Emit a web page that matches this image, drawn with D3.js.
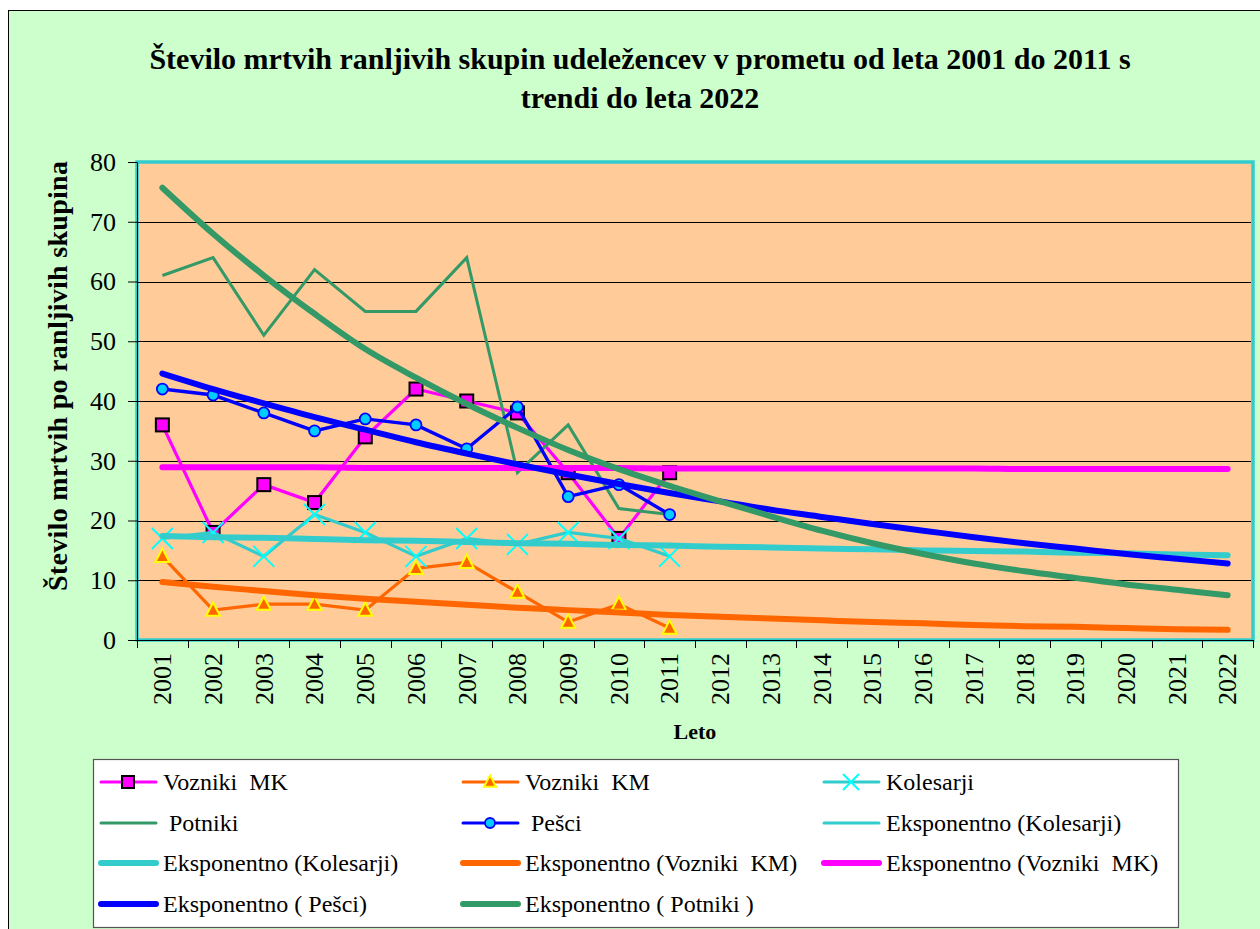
<!DOCTYPE html>
<html>
<head>
<meta charset="utf-8">
<script src="https://cdn.jsdelivr.net/npm/d3@7"></script>
<style>
  html, body { margin: 0; padding: 0; background: #ffffff; }
  svg { display: block; }
  text { font-family: "Liberation Serif", "Times New Roman", serif; fill: #000; }
</style>
</head>
<body>
<svg id="chart" width="1260" height="929"></svg>
<script>
// ---------------- DATA ----------------
const years = ["2001","2002","2003","2004","2005","2006","2007","2008","2009","2010","2011",
               "2012","2013","2014","2015","2016","2017","2018","2019","2020","2021","2022"];
const dataYears = years.slice(0, 11);

const voznikiMK = [36, 18, 26, 23, 34, 42, 40, 38, 28, 17, 28];
const voznikiKM = [14, 5, 6, 6, 5, 12, 13, 8, 3, 6, 2];
const kolesarji = [17, 18, 14, 21, 18, 14, 17, 16, 18, 17, 14];
const potniki   = [61, 64, 51, 62, 55, 55, 64, 28, 36, 22, 21];
const pesci     = [42, 41, 38, 35, 37, 36, 32, 39, 24, 26, 21];

// exponential trend lines (2001..2022)
const trendKolesarji = [17.4, 17.2, 17.1, 16.9, 16.7, 16.6, 16.4, 16.2, 16.1, 15.9, 15.8,
                        15.6, 15.5, 15.3, 15.2, 15.0, 14.9, 14.8, 14.6, 14.5, 14.3, 14.2];
const trendKM        = [9.7, 8.9, 8.2, 7.5, 6.9, 6.4, 5.9, 5.4, 5.0, 4.6, 4.2,
                        3.9, 3.6, 3.3, 3.0, 2.8, 2.5, 2.3, 2.2, 2.0, 1.8, 1.7];
const trendMK        = [28.9, 28.9, 28.9, 28.9, 28.8, 28.8, 28.8, 28.8, 28.8, 28.8, 28.7,
                        28.7, 28.7, 28.7, 28.7, 28.7, 28.7, 28.6, 28.6, 28.6, 28.6, 28.6];
const trendPesci     = [44.6, 42.0, 39.6, 37.3, 35.2, 33.1, 31.2, 29.4, 27.7, 26.1, 24.6,
                        23.2, 21.8, 20.6, 19.4, 18.3, 17.2, 16.2, 15.3, 14.4, 13.6, 12.8];
const trendPotniki   = [75.7, 68.0, 61.0, 54.6, 48.7, 43.9, 39.5, 35.5, 31.8, 28.6, 25.8,
                        23.2, 20.7, 18.3, 16.2, 14.4, 12.8, 11.5, 10.4, 9.3, 8.4, 7.5];

const yTicks = [0, 10, 20, 30, 40, 50, 60, 70, 80];

const titleLines = ["Število mrtvih ranljivih skupin udeležencev v prometu od leta 2001 do 2011 s",
                    "trendi do leta 2022"];
const xTitle = "Leto";
const yTitle = "Število mrtvih po ranljivih skupina";

const legendLabels = ["Vozniki  MK", "Vozniki  KM", "Kolesarji",
                      " Potniki", " Pešci", "Eksponentno (Kolesarji)",
                      "Eksponentno (Kolesarji)", "Eksponentno (Vozniki  KM)", "Eksponentno (Vozniki  MK)",
                      "Eksponentno ( Pešci)", "Eksponentno ( Potniki )"];

// ---------------- STYLES ----------------
const C = {
  mk: "#FF00FF", km: "#FF6600", kol: "#33CCCC", kolMark: "#00FFFF",
  pot: "#339966", pes: "#0000FF", pesFill: "#00CCFF"
};

// ---------------- LAYOUT ----------------
const svg = d3.select("#chart");
const P = { left: 137, right: 1253, top: 162, bottom: 640 };

svg.append("rect").attr("x", 8.5).attr("y", 10.5).attr("width", 1260).attr("height", 930)
  .attr("fill", "#CCFFCC").attr("stroke", "#000").attr("stroke-width", 1);

const x = d3.scaleBand().domain(years).range([P.left, P.right]).paddingInner(0).paddingOuter(0);
const y = d3.scaleLinear().domain([0, 80]).range([P.bottom, P.top]);
const cx = d => x(d) + x.bandwidth() / 2;

// plot background
svg.append("rect").attr("x", P.left).attr("y", P.top)
  .attr("width", P.right - P.left).attr("height", P.bottom - P.top)
  .attr("fill", "#FFCC99").attr("stroke", "#33CCCC").attr("stroke-width", 3.5);

// gridlines
svg.append("g").selectAll("line").data(yTicks.filter(t => t > 0 && t < 80)).join("line")
  .attr("x1", P.left).attr("x2", P.right - 2)
  .attr("y1", d => Math.round(y(d)) + 0.5).attr("y2", d => Math.round(y(d)) + 0.5)
  .attr("stroke", "#000").attr("stroke-width", 1);

// Y axis
const yAxis = svg.append("g").attr("transform", `translate(${P.left},0)`)
  .call(d3.axisLeft(y).tickValues(yTicks).tickSize(9).tickSizeOuter(0).tickPadding(12));
yAxis.attr("font-family", null).attr("font-size", null);
yAxis.select(".domain").attr("stroke", "#000");
yAxis.selectAll(".tick line").attr("stroke", "#000");
yAxis.selectAll("text").style("font-size", "26px");

// X axis
const xAxis = svg.append("g").attr("transform", `translate(0,${P.bottom})`)
  .call(d3.axisBottom(x).tickSize(0).tickSizeOuter(0));
xAxis.attr("font-family", null).attr("font-size", null);
xAxis.select(".domain").attr("stroke", "#000");
xAxis.selectAll(".tick text")
  .attr("transform", "rotate(-90)")
  .attr("x", -13).attr("y", 0).attr("dy", "0.34em")
  .attr("text-anchor", "end")
  .style("font-size", "26px");
// x ticks at category boundaries
const bounds = years.map(d => x(d)).concat([x(years[years.length - 1]) + x.bandwidth()]);
svg.append("g").selectAll("line").data(bounds).join("line")
  .attr("x1", d => Math.round(d) + 0.5).attr("x2", d => Math.round(d) + 0.5)
  .attr("y1", P.bottom).attr("y2", P.bottom + 8)
  .attr("stroke", "#000");

// titles
svg.append("g").selectAll("text").data(titleLines).join("text")
  .attr("x", 640).attr("y", (d, i) => 69 + i * 39)
  .attr("text-anchor", "middle").style("font-size", "30px").style("font-weight", "bold")
  .text(d => d);
svg.append("text").attr("x", 695).attr("y", 739).attr("text-anchor", "middle")
  .style("font-size", "22px").style("font-weight", "bold").text(xTitle);
svg.append("text").attr("transform", "translate(67,376) rotate(-90)")
  .attr("text-anchor", "middle").style("font-size", "28px").style("font-weight", "bold")
  .attr("textLength", 430).attr("lengthAdjust", "spacing")
  .text(yTitle);

// ---------------- SERIES ----------------
const plot = svg.append("g");
const lineGen = d3.line().x((d, i) => cx(years[i])).y(d => y(d));
const trendGen = d3.line().x((d, i) => cx(years[i])).y(d => y(d)).curve(d3.curveMonotoneX);

function drawLine(vals, color, w) {
  plot.append("path").datum(vals).attr("d", lineGen).attr("fill", "none")
    .attr("stroke", color).attr("stroke-width", w).attr("stroke-linejoin", "miter");
}
const sym = {
  square: (g, px, py, s) => g.append("rect").attr("x", px - s/2).attr("y", py - s/2)
      .attr("width", s).attr("height", s).attr("fill", C.mk).attr("stroke", "#000").attr("stroke-width", 2),
  tri: (g, px, py, s) => g.append("path")
      .attr("d", `M${px},${py - s*0.55} L${px + s/2},${py + s*0.4} L${px - s/2},${py + s*0.4} Z`)
      .attr("fill", C.km).attr("stroke", "#FFFF00").attr("stroke-width", 2),
  cross: (g, px, py, s) => g.append("path")
      .attr("d", `M${px - s/2},${py - s/2} L${px + s/2},${py + s/2} M${px + s/2},${py - s/2} L${px - s/2},${py + s/2}`)
      .attr("stroke", C.kolMark).attr("stroke-width", 2).attr("fill", "none"),
  circle: (g, px, py, s) => g.append("circle").attr("cx", px).attr("cy", py).attr("r", s/2)
      .attr("fill", C.pesFill).attr("stroke", C.pes).attr("stroke-width", 1.8)
};
function drawMarkers(vals, kind, s) {
  vals.forEach((v, i) => sym[kind](plot, cx(dataYears[i]), y(v), s));
}

drawLine(voznikiMK, C.mk, 3.2); drawMarkers(voznikiMK, "square", 13);
drawLine(voznikiKM, C.km, 3.2); drawMarkers(voznikiKM, "tri", 14);
drawLine(kolesarji, C.kol, 3.2); drawMarkers(kolesarji, "cross", 21);
drawLine(potniki, C.pot, 3);
drawLine(pesci, C.pes, 3.4); drawMarkers(pesci, "circle", 11);

function drawTrend(vals, color) {
  plot.append("path").datum(vals).attr("d", trendGen).attr("fill", "none")
    .attr("stroke", color).attr("stroke-width", 6)
    .attr("stroke-linecap", "round").attr("stroke-linejoin", "round");
}
drawTrend(trendKolesarji, C.kol);
drawTrend(trendKM, C.km);
drawTrend(trendMK, C.mk);
drawTrend(trendPesci, C.pes);
drawTrend(trendPotniki, C.pot);

// ---------------- LEGEND ----------------
svg.append("rect").attr("x", 93.5).attr("y", 759.5).attr("width", 1085).attr("height", 168)
  .attr("fill", "#fff").attr("stroke", "#555").attr("stroke-width", 1.2);

const legendStyle = [
  { c: C.mk, w: 3, m: "square" }, { c: C.km, w: 3, m: "tri" }, { c: C.kol, w: 3, m: "cross" },
  { c: C.pot, w: 3 }, { c: C.pes, w: 3, m: "circle" }, { c: C.kol, w: 3 },
  { c: C.kol, w: 6 }, { c: C.km, w: 6 }, { c: C.mk, w: 6 },
  { c: C.pes, w: 6 }, { c: C.pot, w: 6 }
];
const colX = [101, 463, 824];
const rowY = [782, 823, 863, 904];
const lg = svg.append("g");
legendLabels.forEach((lab, i) => {
  const col = i % 3, row = Math.floor(i / 3);
  const x0 = colX[col], yy = rowY[row], st = legendStyle[i];
  lg.append("line").attr("x1", x0).attr("x2", x0 + 55).attr("y1", yy).attr("y2", yy)
    .attr("stroke", st.c).attr("stroke-width", st.w).attr("stroke-linecap", "round");
  if (st.m) sym[st.m](lg, x0 + 27, yy, st.m === "cross" ? 16 : (st.m === "circle" ? 10 : 12));
  lg.append("text").attr("x", x0 + 62).attr("y", yy).attr("dy", "0.34em")
    .style("font-size", "24px").style("white-space", "pre").text(lab);
});
</script>
</body>
</html>
